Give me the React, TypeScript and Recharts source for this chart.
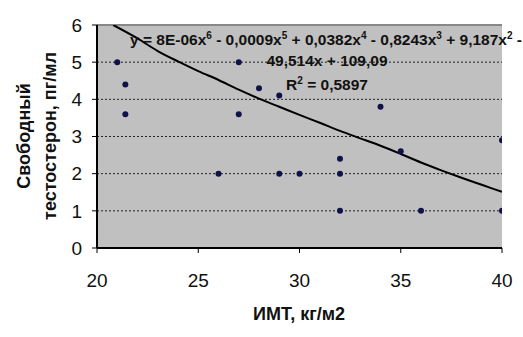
import React from "react";
import {
  CartesianGrid,
  ComposedChart,
  Line,
  ReferenceLine,
  Scatter,
  XAxis,
  YAxis,
} from "recharts";

// Individual measurements: BMI vs free testosterone
const bmi = [21, 21.4, 21.4, 26, 27, 27, 28, 29, 29, 30, 32, 32, 32, 34, 35, 36, 40, 40];
const testosterone = [5, 4.4, 3.6, 2, 5, 3.6, 4.3, 4.1, 2, 2, 2.4, 2, 1, 3.8, 2.6, 1, 2.9, 1];

// Polynomial trend line
const trendX = [20.8, 22, 23, 24, 25, 26, 27, 28, 29, 30, 31, 32, 33, 34, 35, 36, 37, 38, 39, 40];
const trendY = [6.0, 5.64, 5.3, 5.02, 4.76, 4.52, 4.26, 4.02, 3.8, 3.58, 3.37, 3.15, 2.95, 2.75, 2.53, 2.3, 2.09, 1.89, 1.7, 1.51];

const xTicks = [20, 25, 30, 35, 40];
const yTicks = [0, 1, 2, 3, 4, 5, 6];

const FONT = "'Liberation Sans', Arial, sans-serif";

const points = bmi.map((x, i) => ({ x, y: testosterone[i] }));
const trend = trendX.map((x, i) => ({ x, y: trendY[i] }));

const Dot = (props: any) => {
  const { cx, cy } = props;
  if (cx == null || cy == null) return null;
  return <circle cx={cx} cy={cy} r={3} fill="#10104a" />;
};

const Sup = ({ v }: { v: string }) => (
  <>
    <tspan dy={-6} fontSize={10}>{v}</tspan>
    <tspan dy={6}> </tspan>
  </>
);

const App: React.FC = () => {
  return (
    <div style={{ position: "absolute", left: 0, top: 0, width: 523, height: 337, background: "#fff" }}>
      <ComposedChart
        width={523}
        height={337}
        margin={{ top: 25, right: 21, bottom: 0, left: 0 }}
      >
        <CartesianGrid
          vertical={false}
          fill="#c0c0c0"
          stroke="#222"
          strokeDasharray="2 2"
          fillOpacity={1}
        />
        <XAxis
          type="number"
          dataKey="x"
          domain={[20, 40]}
          ticks={xTicks}
          height={89}
          tickSize={5}
          tickMargin={21}
          axisLine={{ stroke: "#000", strokeWidth: 2 }}
          tickLine={{ stroke: "#000" }}
          tick={{ fill: "#111", fontSize: 19, fontFamily: FONT }}
          allowDataOverflow
        />
        <YAxis
          type="number"
          dataKey="y"
          domain={[0, 6]}
          ticks={yTicks}
          width={97}
          tickSize={5}
          tickMargin={10}
          axisLine={{ stroke: "#000", strokeWidth: 2 }}
          tickLine={{ stroke: "#000" }}
          tick={{ fill: "#111", fontSize: 19, fontFamily: FONT }}
          allowDataOverflow
        />
        <ReferenceLine y={6} stroke="#888" strokeWidth={2} />
        <Scatter data={points} shape={<Dot />} isAnimationActive={false} />
        <Line
          data={trend}
          dataKey="y"
          type="monotone"
          stroke="#000"
          strokeWidth={2}
          dot={false}
          activeDot={false}
          isAnimationActive={false}
        />
      </ComposedChart>
      <svg
        width={523}
        height={337}
        style={{ position: "absolute", left: 0, top: 0, pointerEvents: "none" }}
        fontFamily={FONT}
      >
        <g fontWeight="bold" fontSize={15.5} fill="#111" textAnchor="middle">
          <text x={326} y={45}>
            y = 8E-06x<Sup v="6" />- 0,0009x<Sup v="5" />+ 0,0382x<Sup v="4" />- 0,8243x<Sup v="3" />+ 9,187x<Sup v="2" />-
          </text>
          <text x={327} y={66}>49,514x + 109,09</text>
          <text x={327} y={90}>
            R<tspan dy={-6} fontSize={10}>2</tspan>
            <tspan dy={6}> = 0,5897</tspan>
          </text>
        </g>
        <g fontWeight="bold" fontSize={18} fill="#111" textAnchor="middle">
          <text transform="translate(30,136) rotate(-90)">Свободный</text>
          <text transform="translate(56,136) rotate(-90)">тестостерон, пг/мл</text>
          <text x={299} y={320}>ИМТ, кг/м2</text>
        </g>
      </svg>
    </div>
  );
};

export default App;
